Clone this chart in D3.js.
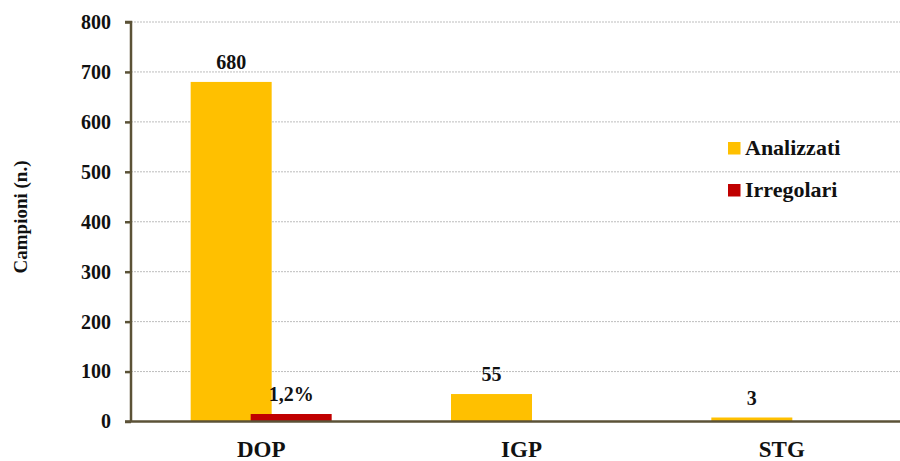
<!DOCTYPE html>
<html>
<head>
<meta charset="utf-8">
<script src="https://cdn.jsdelivr.net/npm/d3@7"></script>
<style>
  body { margin: 0; background: #fff; }
</style>
</head>
<body>
<div id="chart"></div>
<script>
const categories = ["DOP", "IGP", "STG"];
const analizzati = [680, 55, 8];
const irregolari = [15, 0, 0];
const analizzatiLabels = ["680", "55", "3"];
const irregolariLabels = ["1,2%", "", ""];
const yTicks = [0, 100, 200, 300, 400, 500, 600, 700, 800];
const seriesNames = ["Analizzati", "Irregolari"];
const colors = ["#FFC000", "#C00000"];

const FONT = "Liberation Serif";
const width = 900, height = 461;
const margin = {top: 22, right: -12, bottom: 40, left: 131};

const svg = d3.select("#chart")
    .append("svg")
    .attr("width", width)
    .attr("height", height)
    .attr("font-family", FONT);

const x = d3.scaleBand()
    .domain(categories)
    .range([margin.left, width - margin.right]);

const y = d3.scaleLinear()
    .domain([0, 800])
    .range([421.5, margin.top]);

const barW = 81;
const offset = 30;

function styleText(sel, size) {
    sel.attr("font-family", FONT)
        .attr("font-weight", "bold")
        .attr("font-size", size)
        .attr("fill", "#111");
}

// gridlines
svg.append("g")
    .selectAll("line")
    .data(yTicks.filter(d => d > 0))
    .enter()
    .append("line")
    .attr("x1", margin.left)
    .attr("x2", width)
    .attr("y1", d => y(d))
    .attr("y2", d => y(d))
    .attr("stroke", "#bdbdbd")
    .attr("stroke-width", 1)
    .attr("stroke-dasharray", "2,1");

// bars
const series = [analizzati, irregolari];
const labels = [analizzatiLabels, irregolariLabels];
series.forEach((vals, s) => {
    const dx = s === 0 ? -offset : offset;
    svg.append("g")
        .selectAll("rect")
        .data(categories)
        .enter()
        .append("rect")
        .attr("x", d => x(d) + x.bandwidth() / 2 + dx - barW / 2)
        .attr("y", (d, i) => y(vals[i]))
        .attr("width", barW)
        .attr("height", (d, i) => y(0) - y(vals[i]))
        .attr("fill", colors[s]);

    svg.append("g")
        .selectAll("text")
        .data(categories)
        .enter()
        .append("text")
        .attr("x", d => x(d) + x.bandwidth() / 2 + dx)
        .attr("y", (d, i) => y(vals[i]) - 13)
        .attr("text-anchor", "middle")
        .call(styleText, 20)
        .text((d, i) => labels[s][i]);
});

// y axis
const yAxis = svg.append("g")
    .attr("transform", `translate(${margin.left},0)`)
    .call(d3.axisLeft(y).tickValues(yTicks).tickSize(6).tickPadding(14));
yAxis.select(".domain").attr("stroke", "#5b5237").attr("stroke-width", 2.5)
    .attr("d", `M-6,${y(800)}H0V${y(0)}`);
yAxis.selectAll(".tick line").attr("stroke", "#5b5237").attr("stroke-width", 2.5);
yAxis.selectAll(".tick text").call(styleText, 20);

// x axis
const xAxis = svg.append("g")
    .attr("transform", `translate(0,${y(0)})`)
    .call(d3.axisBottom(x).tickSize(0).tickPadding(19));
xAxis.select(".domain").attr("stroke", "#5b5237").attr("stroke-width", 2.5)
    .attr("d", `M${margin.left - 6},0H${width}`);
xAxis.selectAll(".tick text").call(styleText, 23);

// y axis title
svg.append("text")
    .attr("transform", "translate(27,217) rotate(-90)")
    .attr("text-anchor", "middle")
    .call(styleText, 19)
    .text("Campioni (n.)");

// legend
const legend = svg.append("g")
    .selectAll("g")
    .data(seriesNames)
    .enter()
    .append("g")
    .attr("transform", (d, i) => `translate(728,${142 + i * 42})`);
legend.append("rect")
    .attr("width", 12.5)
    .attr("height", 12.5)
    .attr("fill", (d, i) => colors[i]);
legend.append("text")
    .attr("x", 17)
    .attr("y", 12.5)
    .call(styleText, 22)
    .text(d => d);
</script>
</body>
</html>
